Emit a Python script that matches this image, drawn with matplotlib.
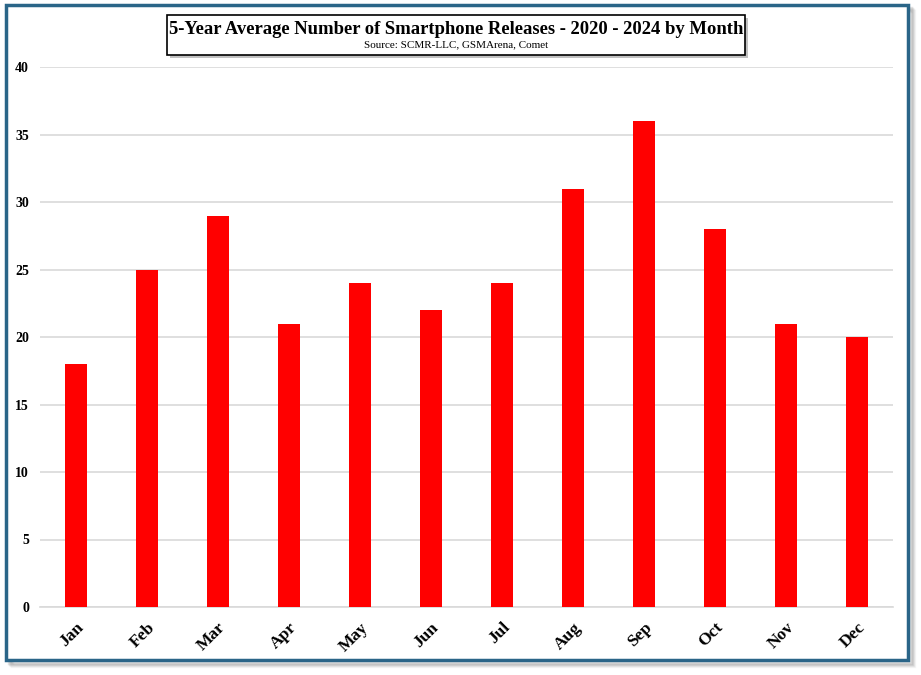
import numpy as np
import matplotlib.pyplot as plt
from matplotlib.patches import Rectangle

months = ["Jan", "Feb", "Mar", "Apr", "May", "Jun",
          "Jul", "Aug", "Sep", "Oct", "Nov", "Dec"]
releases = [18, 25, 29, 21, 24, 22, 24, 31, 36, 28, 21, 20]
yticks = [0, 5, 10, 15, 20, 25, 30, 35, 40]

plt.rcParams["font.family"] = ["Liberation Serif", "DejaVu Serif"]

fig = plt.figure(figsize=(9.21, 6.75), dpi=100)

# outer frame with a soft shadow
W, H = 921, 675
for i, a in enumerate([0.10, 0.08, 0.06, 0.04]):
    off = 3 + i
    fig.patches.append(Rectangle(((6 + off) / W, 1 - (660 + off) / H),
                                 (902) / W, (655) / H, transform=fig.transFigure,
                                 facecolor="none", edgecolor=(0, 0, 0, a),
                                 linewidth=2.5, zorder=0))
fig.patches.append(Rectangle((6 / W, 1 - 660 / H), 902 / W, 655 / H,
                             transform=fig.transFigure, facecolor="white",
                             edgecolor="#2A6588", linewidth=2.5, zorder=1))

ax = fig.add_axes([40 / W, 1 - 607 / H, 853 / W, 540 / H])
ax.set_zorder(2)
x = np.arange(len(months))
ax.bar(x, releases, width=0.31, color="#FF0000", zorder=3)
ax.set_xlim(-0.5, len(months) - 0.5)
ax.set_ylim(0, 40)
ax.set_yticks(yticks)
ax.set_xticks(x)
ax.set_xticklabels(months, rotation=45, fontsize=12.5, fontweight="bold",
                   ha="right", va="top", rotation_mode="anchor")
for lbl in ax.get_xticklabels():
    lbl.set_x(lbl.get_position()[0])
for lbl in ax.get_yticklabels():
    lbl.set_fontweight("bold")
    lbl.set_fontsize(10)
ax.tick_params(axis="y", length=0, pad=8)
ax.tick_params(axis="x", length=0, pad=9)
ax.grid(axis="y", color="#D9D9D9", linewidth=1.2, zorder=0)
for s in ["top", "right", "left"]:
    ax.spines[s].set_visible(False)
ax.spines["bottom"].set_color("#D9D9D9")
ax.spines["bottom"].set_linewidth(1.2)
ax.patch.set_alpha(0)

# title box
bx0, by0, bw, bh = 167 / W, 1 - 55 / H, 578 / W, 40 / H
fig.patches.append(Rectangle((bx0 + 3 / W, by0 - 3 / H), bw, bh,
                             transform=fig.transFigure, facecolor="#999999",
                             edgecolor="none", alpha=0.6, zorder=3))
fig.patches.append(Rectangle((bx0, by0), bw, bh, transform=fig.transFigure,
                             facecolor="white", edgecolor="black",
                             linewidth=1.2, zorder=4))
fig.text(bx0 + bw / 2, 1 - 29 / H,
         "5-Year Average Number of Smartphone Releases - 2020 - 2024 by Month",
         ha="center", va="center", fontsize=13.4, fontweight="bold", zorder=5)
fig.text(bx0 + bw / 2, 1 - 45 / H, "Source: SCMR-LLC, GSMArena, Comet",
         ha="center", va="center", fontsize=8, zorder=5)

fig.savefig("out.png", dpi=100)
